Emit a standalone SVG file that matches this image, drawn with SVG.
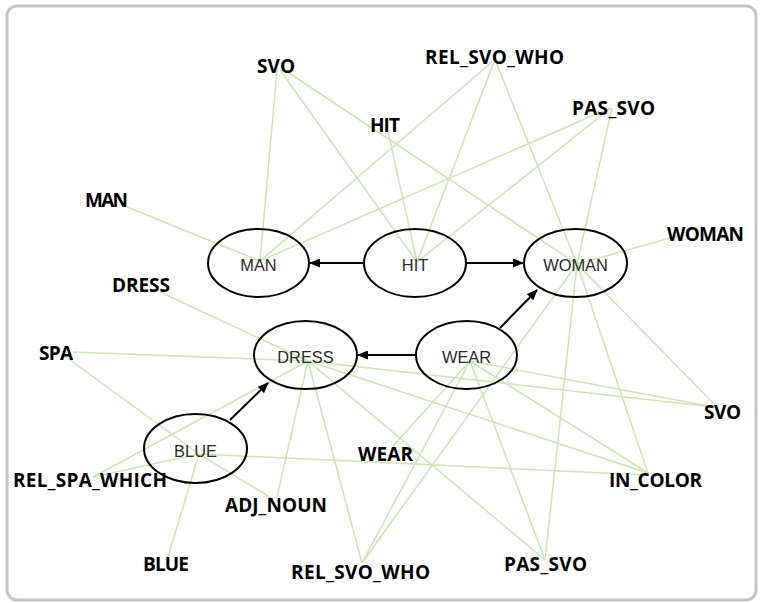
<svg xmlns="http://www.w3.org/2000/svg" width="760" height="603" viewBox="0 0 760 603">
<style>
.frame{fill:#ffffff;stroke:#c4c4c4;stroke-width:3}
.e{stroke:#cde5b6;stroke-width:1.5;fill:none}
.a{stroke:#000;stroke-width:2;fill:none}
.node ellipse{fill:none;stroke:#000;stroke-width:2}
.node text{font-family:"Liberation Sans",Arial,sans-serif;font-size:16.4px;fill:#2a2a2a;text-anchor:middle}
.lbl text{font-family:"Open Sans","Noto Sans",sans-serif;font-weight:700;font-size:19px;fill:#000;text-anchor:middle}
</style>
<defs>
<marker id="arr" markerUnits="userSpaceOnUse" markerWidth="11" markerHeight="9" refX="10" refY="4.5" orient="auto">
<path d="M0,0 L11,4.5 L0,9 Z" fill="#000"/>
</marker>
</defs>
<rect class="frame" x="7" y="6" width="749" height="594" rx="10"/>
<g id="connectors">
<line class="e" x1="277" y1="70" x2="260" y2="261"/>
<line class="e" x1="280" y1="70" x2="417" y2="262"/>
<line class="e" x1="283" y1="69" x2="577" y2="264"/>
<line class="e" x1="492" y1="62" x2="260" y2="261"/>
<line class="e" x1="494" y1="62" x2="417" y2="262"/>
<line class="e" x1="496" y1="62" x2="577" y2="264"/>
<line class="e" x1="610" y1="108" x2="260" y2="261"/>
<line class="e" x1="611" y1="108" x2="417" y2="262"/>
<line class="e" x1="612" y1="108" x2="577" y2="264"/>
<line class="e" x1="388" y1="132" x2="417" y2="262"/>
<line class="e" x1="127" y1="207" x2="260" y2="261"/>
<line class="e" x1="681" y1="235" x2="577" y2="264"/>
<line class="e" x1="160" y1="292" x2="308" y2="361"/>
<line class="e" x1="73" y1="352" x2="308" y2="361"/>
<line class="e" x1="66" y1="357" x2="199" y2="454"/>
<line class="e" x1="93" y1="477" x2="308" y2="361"/>
<line class="e" x1="93" y1="477" x2="199" y2="454"/>
<line class="e" x1="277" y1="497" x2="308" y2="361"/>
<line class="e" x1="273" y1="499" x2="199" y2="454"/>
<line class="e" x1="168" y1="557" x2="199" y2="454"/>
<line class="e" x1="362" y1="563" x2="308" y2="361"/>
<line class="e" x1="362" y1="563" x2="470" y2="361"/>
<line class="e" x1="362" y1="563" x2="577" y2="264"/>
<line class="e" x1="545" y1="560" x2="308" y2="361"/>
<line class="e" x1="545" y1="560" x2="470" y2="361"/>
<line class="e" x1="545" y1="560" x2="577" y2="264"/>
<line class="e" x1="713" y1="407" x2="308" y2="361"/>
<line class="e" x1="713" y1="407" x2="470" y2="361"/>
<line class="e" x1="716" y1="406" x2="577" y2="264"/>
<line class="e" x1="648" y1="473" x2="308" y2="361"/>
<line class="e" x1="648" y1="473" x2="470" y2="361"/>
<line class="e" x1="648" y1="473" x2="577" y2="264"/>
<line class="e" x1="648" y1="475" x2="199" y2="454"/>
<line class="e" x1="393" y1="446" x2="470" y2="361"/>
<line class="a" x1="364" y1="263" x2="310" y2="263" marker-end="url(#arr)"/>
<line class="a" x1="466" y1="263" x2="523" y2="263" marker-end="url(#arr)"/>
<line class="a" x1="416" y1="355" x2="358" y2="355" marker-end="url(#arr)"/>
<line class="a" x1="500" y1="328" x2="537" y2="290" marker-end="url(#arr)"/>
<line class="a" x1="230" y1="420" x2="268" y2="383" marker-end="url(#arr)"/>
</g>
<g id="n-man" class="node"><ellipse cx="258.5" cy="263" rx="50.5" ry="34"/><text x="258.5" y="271">MAN</text></g>
<g id="n-hit" class="node"><ellipse cx="415" cy="263" rx="51" ry="34"/><text x="415" y="271">HIT</text></g>
<g id="n-woman" class="node"><ellipse cx="575.5" cy="263" rx="51.5" ry="34"/><text x="575.5" y="271">WOMAN</text></g>
<g id="n-dress" class="node"><ellipse cx="305.5" cy="355" rx="51.5" ry="34"/><text x="305.5" y="363">DRESS</text></g>
<g id="n-wear" class="node"><ellipse cx="466.5" cy="355" rx="50.5" ry="34"/><text x="466.5" y="363">WEAR</text></g>
<g id="n-blue" class="node"><ellipse cx="195.5" cy="448.5" rx="51.5" ry="34.5"/><text x="195.5" y="457">BLUE</text></g>
<g id="l-svo-top" class="lbl"><text x="276" y="73" textLength="38">SVO</text></g>
<g id="l-hit" class="lbl"><text x="385" y="132" textLength="30">HIT</text></g>
<g id="l-rel-svo-who-top" class="lbl"><text x="494.5" y="64" textLength="139">REL_SVO_WHO</text></g>
<g id="l-pas-svo-top" class="lbl"><text x="613.5" y="115" textLength="83">PAS_SVO</text></g>
<g id="l-man" class="lbl"><text x="106.5" y="207" textLength="43">MAN</text></g>
<g id="l-woman" class="lbl"><text x="705.5" y="241" textLength="77">WOMAN</text></g>
<g id="l-dress" class="lbl"><text x="141" y="292" textLength="58">DRESS</text></g>
<g id="l-spa" class="lbl"><text x="56" y="360" textLength="34">SPA</text></g>
<g id="l-rel-spa-which" class="lbl"><text x="90" y="487" textLength="154">REL_SPA_WHICH</text></g>
<g id="l-adj-noun" class="lbl"><text x="276" y="511.5" textLength="102">ADJ_NOUN</text></g>
<g id="l-blue" class="lbl"><text x="166" y="571" textLength="46">BLUE</text></g>
<g id="l-rel-svo-who-bot" class="lbl"><text x="360.5" y="579" textLength="139">REL_SVO_WHO</text></g>
<g id="l-wear" class="lbl"><text x="385.5" y="461" textLength="55">WEAR</text></g>
<g id="l-pas-svo-bot" class="lbl"><text x="545.5" y="571" textLength="83">PAS_SVO</text></g>
<g id="l-in-color" class="lbl"><text x="655.5" y="487" textLength="93">IN_COLOR</text></g>
<g id="l-svo-right" class="lbl"><text x="722.5" y="419" textLength="37">SVO</text></g>
</svg>
